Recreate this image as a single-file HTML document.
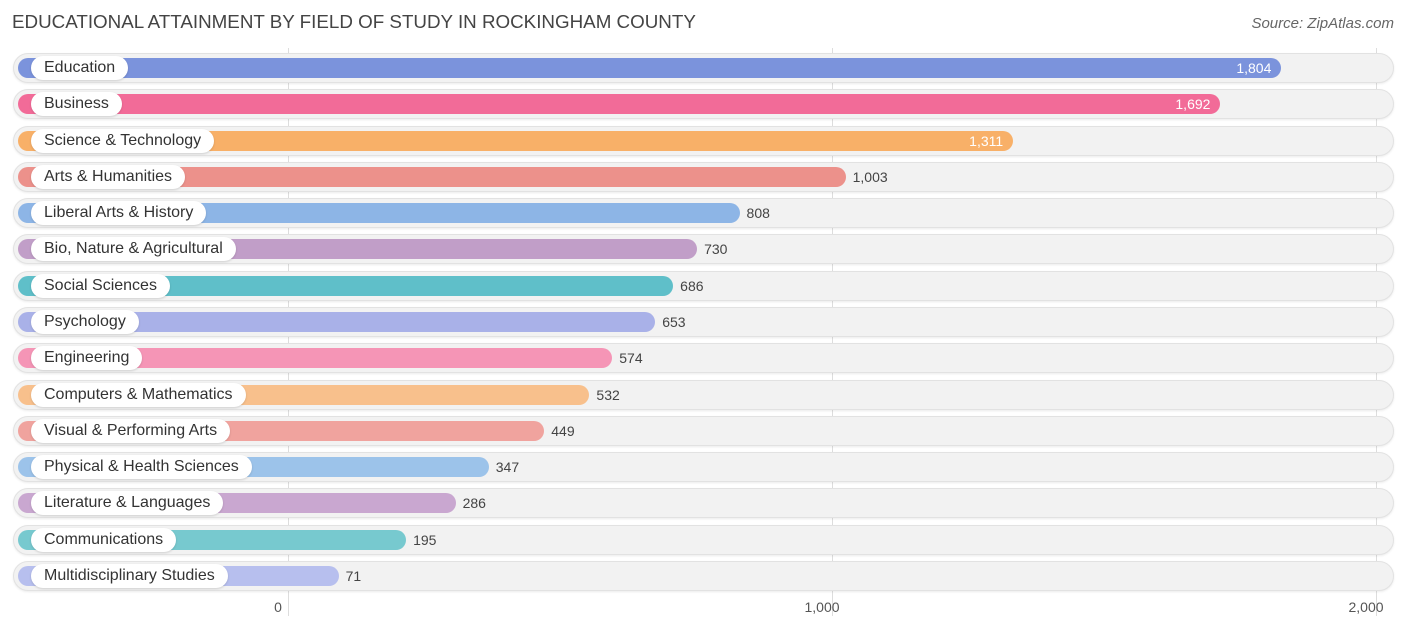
<!DOCTYPE html>
<html><head><meta charset="utf-8"><style>
body{margin:0;background:#fff;font-family:"Liberation Sans",Arial,sans-serif;}
#c{position:relative;width:1406px;height:631px;overflow:hidden;}
.t{position:absolute;left:12px;top:11px;font-size:18.8px;color:#444;}
.s{position:absolute;right:12px;top:15px;font-size:15px;color:#666;font-style:italic;}
.grid{position:absolute;top:48px;height:568px;width:1px;background:#ddd;}
.row{position:absolute;left:13px;width:1379px;height:28px;border-radius:15px;background:#f2f2f2;border:1px solid #e2e2e2;box-shadow:0 1px 2px rgba(0,0,0,0.08);}
.bar{position:absolute;left:18px;height:20px;border-radius:10px;}
.lab{position:absolute;left:31px;height:24px;line-height:24px;padding:0 13px;border-radius:12px;background:#fff;font-size:16px;color:#333;box-shadow:0 1px 2px rgba(0,0,0,0.15);}
.val{position:absolute;font-size:14px;line-height:20px;color:#444;}
.val.in{color:#fff;}
.tick{position:absolute;top:599px;font-size:14px;color:#555;transform:translateX(-50%);}
</style></head><body>
<div id="c">
<div class="t">EDUCATIONAL ATTAINMENT BY FIELD OF STUDY IN ROCKINGHAM COUNTY</div>
<div class="s">Source: ZipAtlas.com</div>
</div>
<script>
const categories=["Education","Business","Science & Technology","Arts & Humanities","Liberal Arts & History","Bio, Nature & Agricultural","Social Sciences","Psychology","Engineering","Computers & Mathematics","Visual & Performing Arts","Physical & Health Sciences","Literature & Languages","Communications","Multidisciplinary Studies"];
const values=[1804,1692,1311,1003,808,730,686,653,574,532,449,347,286,195,71];
const valueLabels=["1,804","1,692","1,311","1,003","808","730","686","653","574","532","449","347","286","195","71"];
const tickValues=[0,1000,2000];
const tickLabels=["0","1,000","2,000"];
const colors=["#7b93dc","#f26b98","#f8b068","#ec918b","#8db5e6","#c19ec8","#5fbfc9","#a9b1e8","#f595b6","#f8c08c","#f0a39e","#9cc3ea","#c9a7d0","#77c9cf","#b7bfee"];
const c=document.getElementById('c');
const x=v=>288+v*0.544;
const y0=68,step=36.29;
tickValues.forEach((t,i)=>{
 const g=document.createElement('div');g.className='grid';g.style.left=x(t)+'px';
 
 
 c.appendChild(g);
 const l=document.createElement('div');l.className='tick';l.style.left=(x(t)-10)+'px';l.textContent=tickLabels[i];
 
 
 c.appendChild(l);
});
categories.forEach((cat,i)=>{
 const cy=y0+i*step;
 const r=document.createElement('div');r.className='row';r.style.top=(cy-15)+'px';
 
 
 c.appendChild(r);
 const end=x(values[i])+12;
 const b=document.createElement('div');b.className='bar';b.style.top=(cy-10)+'px';b.style.width=(end-18)+'px';b.style.background=colors[i];
 
 
 c.appendChild(b);
 const l=document.createElement('div');l.className='lab';l.style.top=(cy-12)+'px';l.textContent=cat;
 
 
 c.appendChild(l);
 const v=document.createElement('div');v.className='val';v.style.top=(cy-10)+'px';v.textContent=valueLabels[i];
 
 
 if(values[i]>1200){v.classList.add('in');v.style.left=(end-50)+'px';v.style.width='40px';v.style.textAlign='right';}
 else v.style.left=(end+7)+'px';
 c.appendChild(v);
});
</script>
</body></html>
